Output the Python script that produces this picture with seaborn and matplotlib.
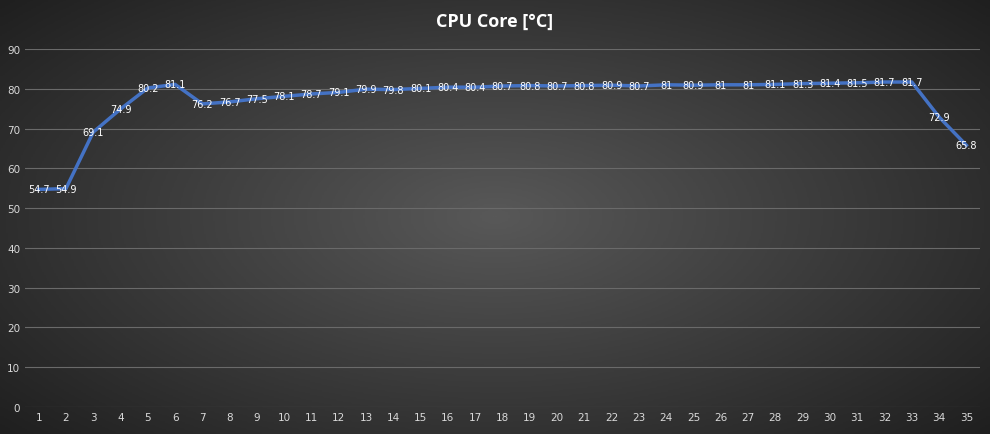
import numpy as np
import pandas as pd
import matplotlib
matplotlib.use("Agg")
import matplotlib.pyplot as plt
import seaborn as sns

samples = list(range(1, 36))
temps = [54.7, 54.9, 69.1, 74.9, 80.2, 81.1, 76.2, 76.7, 77.5, 78.1, 78.7, 79.1, 79.9, 79.8,
         80.1, 80.4, 80.4, 80.7, 80.8, 80.7, 80.8, 80.9, 80.7, 81, 80.9, 81, 81, 81.1, 81.3,
         81.4, 81.5, 81.7, 81.7, 72.9, 65.8]
labels = ["54.7", "54.9", "69.1", "74.9", "80.2", "81.1", "76.2", "76.7", "77.5", "78.1", "78.7",
          "79.1", "79.9", "79.8", "80.1", "80.4", "80.4", "80.7", "80.8", "80.7", "80.8", "80.9",
          "80.7", "81", "80.9", "81", "81", "81.1", "81.3", "81.4", "81.5", "81.7", "81.7", "72.9", "65.8"]
yticks = [0, 10, 20, 30, 40, 50, 60, 70, 80, 90]

df = pd.DataFrame({"sample": samples, "temp": temps})

fig = plt.figure(figsize=(9.9, 4.35), dpi=100)
bg = fig.add_axes([0, 0, 1, 1])
yy, xx = np.mgrid[-1:1:300j, -1:1:600j]
r = np.sqrt(xx**2 + (yy * 0.9)**2)
bg.imshow(np.clip(1 - r / 1.4, 0, 1), cmap=matplotlib.colors.LinearSegmentedColormap.from_list(
    "g", ["#1f1f1f", "#585858"]), aspect="auto", extent=[0, 1, 0, 1])
bg.axis("off")

ax = fig.add_axes([25 / 990, 27 / 435, 955 / 990, 358 / 435 * 1.0])
ax.set_position([25 / 990, (435 - 408) / 435, 955 / 990, 358 / 435])
ax.patch.set_alpha(0)
sns.lineplot(data=df, x="sample", y="temp", ax=ax, color="#4472c4", linewidth=2.5)
for x, y, t in zip(samples, temps, labels):
    ax.text(x, y, t, color="white", fontsize=7, ha="center", va="center")
ax.set_xlim(0.5, 35.5)
ax.set_ylim(0, 90)
ax.set_yticks(yticks)
ax.set_xticks(samples)
ax.grid(axis="y", color="#6a6a6a", linewidth=0.8)
ax.grid(axis="x", visible=False)
for s in ax.spines.values():
    s.set_visible(False)
ax.tick_params(colors="#d9d9d9", labelsize=7.5, length=0)
ax.set_xlabel("")
ax.set_ylabel("")
fig.text(0.5, 1 - 22 / 435, "CPU Core [°C]", color="white", fontsize=13, fontweight="bold",
         ha="center", va="center", family="Open Sans")
fig.savefig("out.png", dpi=100)
